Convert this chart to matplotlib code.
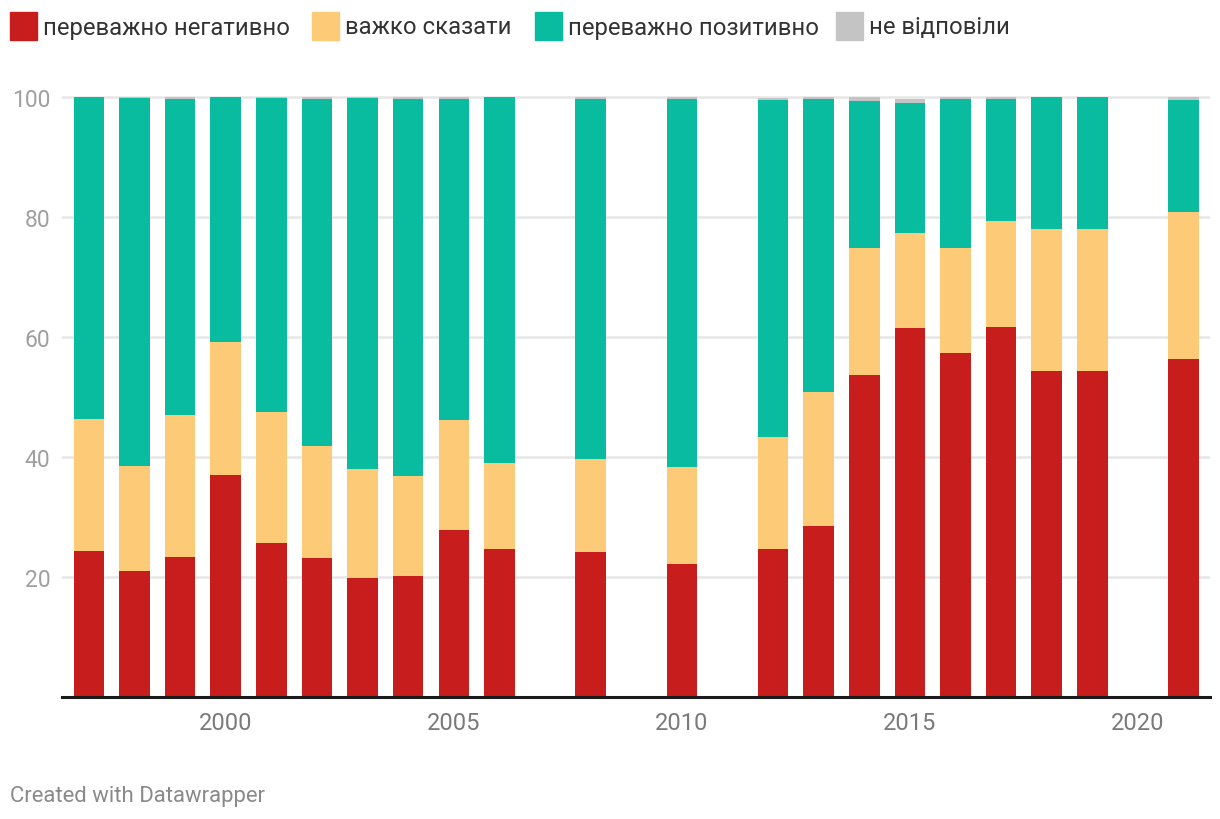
import matplotlib
matplotlib.use("Agg")
import matplotlib.pyplot as plt
from matplotlib.patches import Rectangle

plt.rcParams['font.family'] = ['Roboto', 'DejaVu Sans']

years = [1997, 1998, 1999, 2000, 2001, 2002, 2003, 2004, 2005, 2006,
         2008, 2010, 2012, 2013, 2014, 2015, 2016, 2017, 2018, 2019, 2021]
negative = [24.3, 21.0, 23.3, 37.0, 25.6, 23.1, 19.8, 20.1, 27.8, 24.6,
            24.1, 22.1, 24.6, 28.5, 53.7, 61.5, 57.3, 61.6, 54.3, 54.3, 56.3]
hard_to_say = [22.0, 17.4, 23.7, 22.1, 21.9, 18.7, 18.2, 16.7, 18.3, 14.4,
               15.5, 16.2, 18.7, 22.3, 21.1, 15.8, 17.5, 17.7, 23.7, 23.7, 24.5]
positive = [53.7, 61.4, 52.6, 40.9, 52.3, 57.8, 61.8, 62.8, 53.5, 61.0,
            60.0, 61.3, 56.2, 48.8, 24.5, 21.7, 24.8, 20.3, 22.0, 22.0, 18.7]
no_answer = [0.0, 0.2, 0.4, 0.0, 0.2, 0.4, 0.2, 0.4, 0.4, 0.0,
             0.4, 0.4, 0.35, 0.35, 0.65, 0.65, 0.35, 0.4, 0.0, 0.0, 0.45]

series_names = ["переважно негативно", "важко сказати", "переважно позитивно", "не відповіли"]
colors = ["#c71e1d", "#fdca78", "#09bc9f", "#c4c4c4"]
x_ticks = [2000, 2005, 2010, 2015, 2020]
y_ticks = [20, 40, 60, 80, 100]

W, H = 1220, 820
fig = plt.figure(figsize=(W / 100, H / 100), dpi=100)
ax = fig.add_axes([62 / W, 122.3 / H, (1210 - 62) / W, 606 / H])

bottom = [0.0] * len(years)
for vals, col in zip([negative, hard_to_say, positive, no_answer], colors):
    ax.bar(years, vals, bottom=bottom, width=0.67, color=col, zorder=3, linewidth=0)
    bottom = [b + v for b, v in zip(bottom, vals)]

ax.set_xlim(1996.41, 2021.58)
ax.set_ylim(0, 101)
ax.set_yticks(y_ticks)
ax.set_xticks(x_ticks)
ax.set_xticklabels([str(t) for t in x_ticks])
for s in ['top', 'right', 'left']:
    ax.spines[s].set_visible(False)
ax.spines['bottom'].set_color('#1a1a1a')
ax.spines['bottom'].set_linewidth(2.2)
ax.spines['bottom'].set_zorder(5)
ax.grid(axis='y', color='#e6e6e6', linewidth=1.8, zorder=0)
ax.tick_params(axis='y', length=0, pad=8.5, labelsize=16.5, labelcolor='#a0a0a0')
ax.tick_params(axis='x', length=0, pad=10, labelsize=17, labelcolor='#7a7a7a')

# legend
leg_x = [10, 312, 535, 836]
for lx, name, col in zip(leg_x, series_names, colors):
    fig.patches.append(Rectangle((lx / W, (H - 41) / H), 27 / W, 28 / H,
                                 transform=fig.transFigure, color=col, figure=fig))
    fig.text((lx + 33) / W, (H - 28) / H, name, fontsize=17.2, color='#333333',
             va='center', ha='left')

fig.text(10 / W, (H - 797) / H, "Created with Datawrapper", fontsize=15.9,
         color='#8a8a8a', va='center', ha='left')

fig.savefig("out.png", dpi=100)
